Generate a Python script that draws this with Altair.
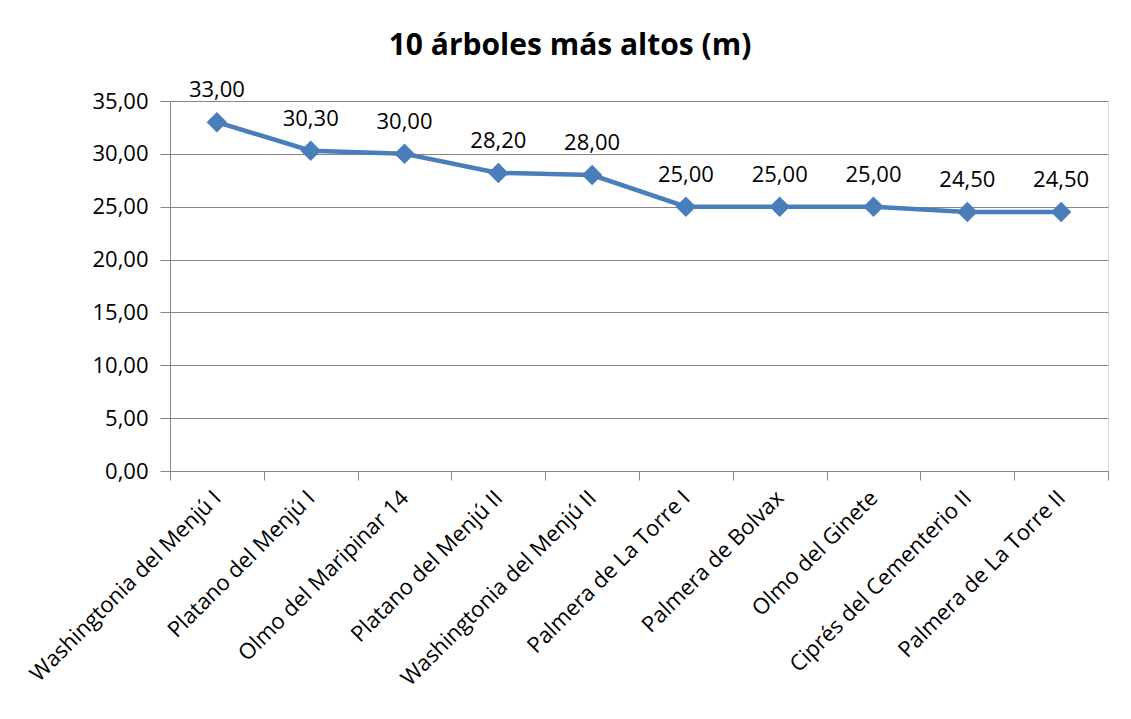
import altair as alt
import pandas as pd

arboles = [
    "Washingtonia del Menjú I",
    "Platano del Menjú I",
    "Olmo del Maripinar 14",
    "Platano del Menjú II",
    "Washingtonia del Menjú II",
    "Palmera de La Torre I",
    "Palmera de Bolvax",
    "Olmo del Ginete",
    "Ciprés del Cementerio II",
    "Palmera de La Torre II",
]
alturas = [33.00, 30.30, 30.00, 28.20, 28.00, 25.00, 25.00, 25.00, 24.50, 24.50]
y_ticks = [0, 5, 10, 15, 20, 25, 30, 35]

df = pd.DataFrame({"arbol": arboles, "altura": alturas})
df["etiqueta"] = [f"{v:.2f}".replace(".", ",") for v in alturas]

FONT = "Open Sans"
BLUE = "#4A7EBB"
GRAY = "#868686"

x_enc = alt.X(
    "arbol:N",
    sort=arboles,
    scale=alt.Scale(type="band", paddingInner=0, paddingOuter=0),
    axis=alt.Axis(
        title=None,
        labelAngle=-45,
        labelAlign="right",
        labelBaseline="middle",
        labelFont=FONT,
        labelFontSize=22,
        labelColor="#000000",
        labelPadding=14,
        labelLimit=400,
        tickBand="extent",
        tickSize=9,
        tickColor=GRAY,
        domainColor=GRAY,
        grid=False,
    ),
)
y_enc = alt.Y(
    "altura:Q",
    scale=alt.Scale(domain=[0, 35], nice=False),
    axis=alt.Axis(
        title=None,
        values=y_ticks,
        labelExpr="replace(format(datum.value, '.2f'), '.', ',')",
        labelFont=FONT,
        labelFontSize=22,
        labelColor="#000000",
        labelPadding=12,
        tickSize=10,
        tickColor=GRAY,
        domainColor=GRAY,
        gridColor=GRAY,
        gridWidth=1,
    ),
)

base = alt.Chart(df).encode(x=x_enc, y=y_enc)

line = base.mark_line(color=BLUE, strokeWidth=4.5)
points = base.mark_point(shape="diamond", filled=True, size=420, color=BLUE, opacity=1)
labels = base.mark_text(
    font=FONT, fontSize=22, color="#000000", baseline="bottom", dy=-20
).encode(text="etiqueta:N")

chart = (
    alt.layer(line, points, labels)
    .properties(
        width=938,
        height=370,
        title=alt.TitleParams(
            "10 árboles más altos (m)",
            font=FONT,
            fontSize=30,
            fontWeight="bold",
            color="#000000",
            anchor="middle",
            dx=-69,
            offset=18,
        ),
        autosize=alt.AutoSizeParams(type="none"),
        padding={"left": 162, "top": 93, "right": 15, "bottom": 230},
    )
    .configure_view(stroke=None)
    .configure(background="white")
)

chart.save("out.html", embed_options={"renderer": "svg", "actions": False})
